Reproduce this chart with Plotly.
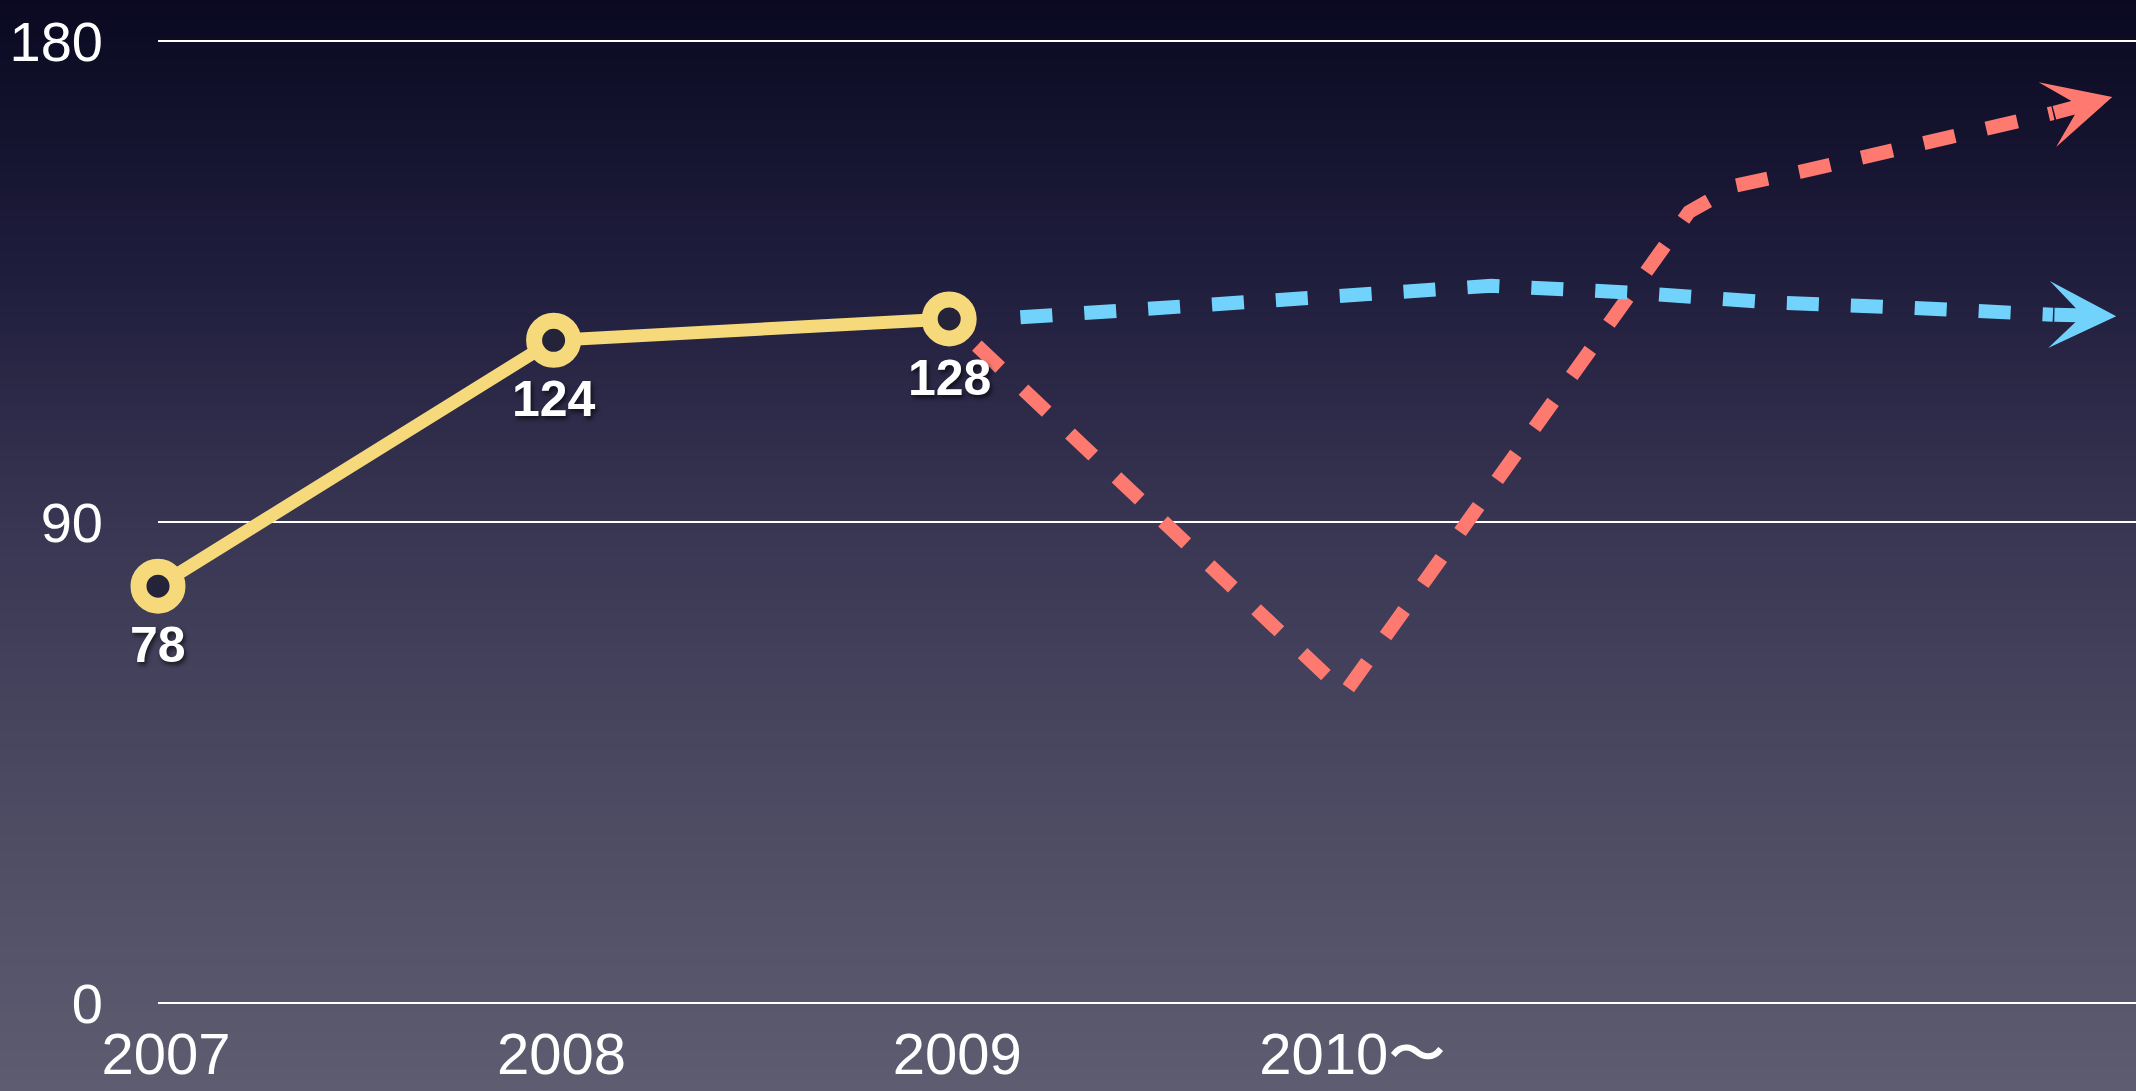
import plotly.graph_objects as go

# ---------------- data ----------------
years = [2007, 2008, 2009]
values = [78, 124, 128]
value_labels = ["78", "124", "128"]

# forecast paths (x in years, value); last point = arrow tip
red_x = [2009.07, 2010.00, 2010.87, 2010.99, 2011.15, 2011.42, 2011.66, 2011.79, 2011.94]
red_y = [123, 58, 148, 153, 155.5, 160, 164, 166.5, 169.5]
blue_x = [2009.18, 2009.70, 2010.04, 2010.37, 2010.73, 2011.08, 2011.42, 2011.79, 2011.95]
blue_y = [128.3, 130.8, 132.9, 134.2, 132.9, 131.1, 130.1, 128.8, 128.5]

x_tick_vals = [2007, 2008, 2009, 2010]
x_tick_text = ["2007", "2008", "2009", "2010〜"]
y_tick_vals = [0, 90, 180]
y_tick_text = ["0", "90", "180"]

# ---------------- style ----------------
W, H = 2136, 1091
YELLOW = "#f6d97b"
RED = "#fe7a70"
BLUE = "#71d2fc"
HOLE = "#25233a"

# background gradient stops (pixel y from top, rgb)
bg_stops = [(0, (10, 9, 33)), (270, (31, 29, 60)), (540, (57, 55, 83)),
            (810, (77, 75, 99)), (1091, (94, 92, 112))]


def bg_color(py):
    for (y0, c0), (y1, c1) in zip(bg_stops[:-1], bg_stops[1:]):
        if y0 <= py <= y1:
            t = (py - y0) / (y1 - y0)
            c = [round(a + (b - a) * t) for a, b in zip(c0, c1)]
            return "rgb(%d,%d,%d)" % tuple(c)
    return "rgb(%d,%d,%d)" % bg_stops[-1][1]


shapes = []
band = 6
for top in range(0, H, band):
    shapes.append(dict(
        type="rect", xref="paper", yref="paper", layer="below",
        x0=0, x1=1, y0=1 - min(top + band + 1, H) / H, y1=1 - top / H,
        fillcolor=bg_color(top + band / 2), line=dict(width=0)))

fig = go.Figure()

dash = "32px,32px"
# dashed bodies stop where the arrowhead begins; the head itself is an annotation arrow
fig.add_trace(go.Scatter(x=red_x[:-1], y=red_y[:-1], mode="lines",
                         line=dict(color=RED, width=14, dash=dash),
                         cliponaxis=False, hoverinfo="skip"))
fig.add_trace(go.Scatter(x=blue_x[:-1], y=blue_y[:-1], mode="lines",
                         line=dict(color=BLUE, width=14, dash=dash),
                         cliponaxis=False, hoverinfo="skip"))
fig.add_trace(go.Scatter(x=years, y=values, mode="lines+markers",
                         line=dict(color=YELLOW, width=13),
                         marker=dict(size=39, color=HOLE, line=dict(color=YELLOW, width=16)),
                         cliponaxis=False, hoverinfo="skip"))

annotations = []
for xv, yv, t in zip(years, values, value_labels):
    annotations.append(dict(
        x=xv, y=yv, xref="x", yref="y", text=t, showarrow=False,
        yshift=-59, xanchor="center", yanchor="middle",
        font=dict(family="Liberation Sans, Arial", size=50, color="white",
                  weight="bold", shadow="2px 3px 4px rgba(0,0,0,0.6)")))

for xs, ys, col in ((red_x, red_y, RED), (blue_x, blue_y, BLUE)):
    annotations.append(dict(
        x=xs[-1], y=ys[-1], xref="x", yref="y",
        ax=xs[-2], ay=ys[-2], axref="x", ayref="y",
        text="", showarrow=True, arrowhead=3, arrowsize=0.8,
        arrowwidth=14, arrowcolor=col, standoff=0))

# small pad so the edge grid lines (0 and 180) are drawn
ypad = 0.5
px_per_unit = (1003 - 41) / 180

fig.update_layout(
    width=W, height=H,
    margin=dict(l=0, r=0, t=0, b=0, pad=0),
    paper_bgcolor="rgb(10,9,33)",
    plot_bgcolor="rgba(0,0,0,0)",
    showlegend=False,
    shapes=shapes,
    annotations=annotations,
    xaxis=dict(
        domain=[158 / W, 1], range=[2007, 2012], automargin=False,
        showgrid=False, zeroline=False, showline=False,
        tickmode="array", tickvals=x_tick_vals, ticktext=x_tick_text,
        ticks="", ticklabelstandoff=9, ticklabelshift=8,
        tickfont=dict(family="Liberation Sans, Arial", size=58, color="white")),
    yaxis=dict(
        domain=[(H - 1003 - ypad * px_per_unit) / H, (H - 41 + ypad * px_per_unit) / H],
        range=[-ypad, 180 + ypad], automargin=False,
        showgrid=True, gridcolor="white", gridwidth=2, zeroline=False, showline=False,
        tickmode="array", tickvals=y_tick_vals, ticktext=y_tick_text,
        ticks="", ticklabelstandoff=54,
        tickfont=dict(family="Liberation Sans, Arial", size=56, color="white")),
)

fig.write_html("out.html")
